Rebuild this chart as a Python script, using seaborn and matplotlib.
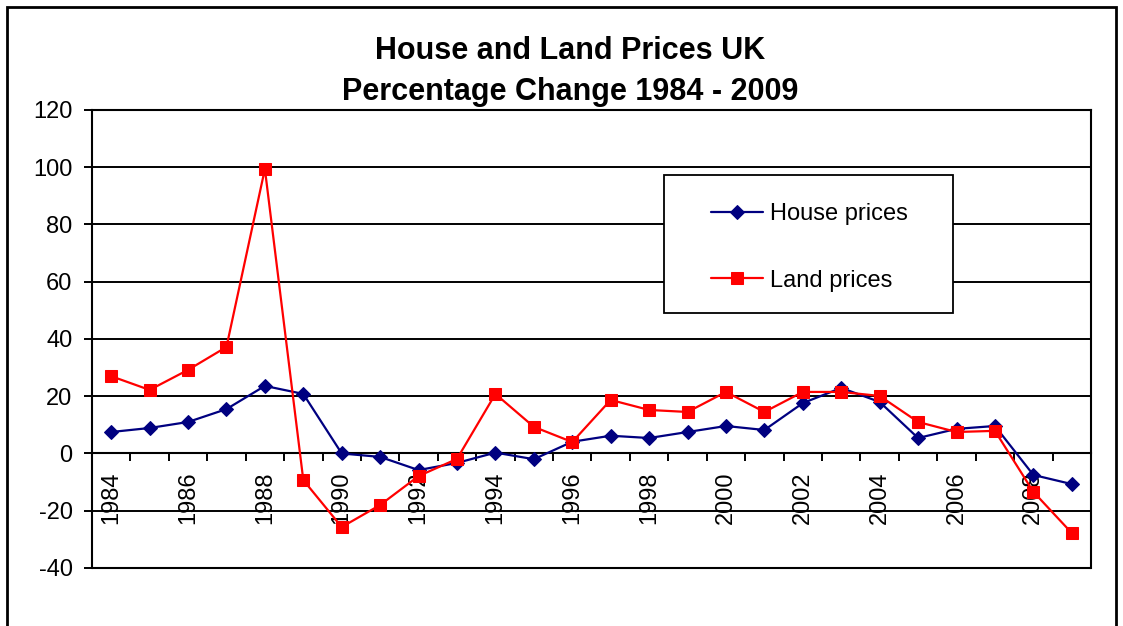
import pandas as pd
import seaborn as sns
import matplotlib.pyplot as plt
from matplotlib.patches import Rectangle
from matplotlib.ticker import FixedLocator

years = list(range(1984, 2010))
house_prices = [7.5, 8.9, 11.0, 15.5, 23.6, 20.8, 0.0, -1.2, -5.8, -3.3, 0.3, -2.0, 4.1,
                6.2, 5.4, 7.5, 9.6, 8.2, 17.6, 22.9, 18.0, 5.4, 8.6, 9.6, -7.5, -10.7]
land_prices = [27.0, 22.2, 29.2, 37.2, 99.4, -9.3, -25.7, -18.0, -7.9, -1.9, 20.8, 9.3, 4.0,
               18.7, 15.2, 14.5, 21.5, 14.5, 21.5, 21.5, 20.1, 11.0, 7.5, 7.9, -13.4, -27.8]

df = pd.DataFrame({"Year": years, "House prices": house_prices, "Land prices": land_prices})

sns.set_style("white")
plt.rcParams["font.family"] = ["Liberation Sans", "DejaVu Sans"]
plt.rcParams["axes.unicode_minus"] = False
plt.rcParams["text.color"] = "black"
plt.rcParams["xtick.color"] = "black"
plt.rcParams["ytick.color"] = "black"

fig = plt.figure(figsize=(11.23, 6.26), dpi=100)
ax = fig.add_axes([0.0819, 0.0927, 0.8896, 0.7316])

for y in range(-40, 121, 20):
    ax.axhline(y, color="black", lw=1.4, zorder=1)

sns.lineplot(data=df, x="Year", y="House prices", ax=ax, color="#000080", lw=1.6,
             marker="D", markersize=7, markeredgecolor="#000080", label="House prices", zorder=3)
sns.lineplot(data=df, x="Year", y="Land prices", ax=ax, color="red", lw=1.6,
             marker="s", markersize=8, markeredgecolor="red", label="Land prices", zorder=3)

for side in ["left", "right", "top", "bottom"]:
    ax.spines[side].set_color("black")
    ax.spines[side].set_linewidth(1.5)
ax.spines["bottom"].set_position(("data", 0))
ax.plot([0, 1], [0, 0], transform=ax.transAxes, color="black", lw=1.5, clip_on=False)

ax.set_ylim(-40, 120)
ax.set_yticks(range(-40, 121, 20))
ax.set_xlim(1983.5, 2009.5)
ax.set_xticks(years)
ax.set_xticklabels([str(y) if y % 2 == 0 else "" for y in years], rotation=90, fontsize=17)
ax.xaxis.set_minor_locator(FixedLocator([y + 0.5 for y in range(1983, 2009)]))
ax.tick_params(axis="x", which="major", length=0, pad=13)
ax.tick_params(axis="x", which="minor", length=6, width=1.4, direction="out", color="black", bottom=True)
ax.tick_params(axis="y", length=6, width=1.4, direction="out", color="black", left=True,
               labelsize=17, pad=8)
ax.set_xlabel("")
ax.set_ylabel("")

# legend box drawn separately so its padding can match the Excel layout
ax.add_patch(Rectangle((0.5726, 0.5568), 0.2893, 0.3013, transform=ax.transAxes,
                       facecolor="white", edgecolor="black", lw=1.3, zorder=4))
leg = ax.legend(loc="center left", bbox_to_anchor=(0.6196, 0.6997), frameon=False,
                fontsize=17, borderpad=0, borderaxespad=0, labelspacing=1.87,
                handlelength=2.2, handletextpad=0.3)
leg.set_zorder(5)

fig.text(0.5076, 0.9058, "House and Land Prices UK", ha="center", va="baseline",
         fontsize=22, fontweight="bold")
fig.text(0.5076, 0.8403, "Percentage Change 1984 - 2009", ha="center", va="baseline",
         fontsize=22, fontweight="bold")

fig.patches.append(Rectangle((0.006, -0.05), 0.988, 1.039, transform=fig.transFigure,
                             fill=False, edgecolor="black", lw=2))

fig.savefig("out.png", dpi=100)
